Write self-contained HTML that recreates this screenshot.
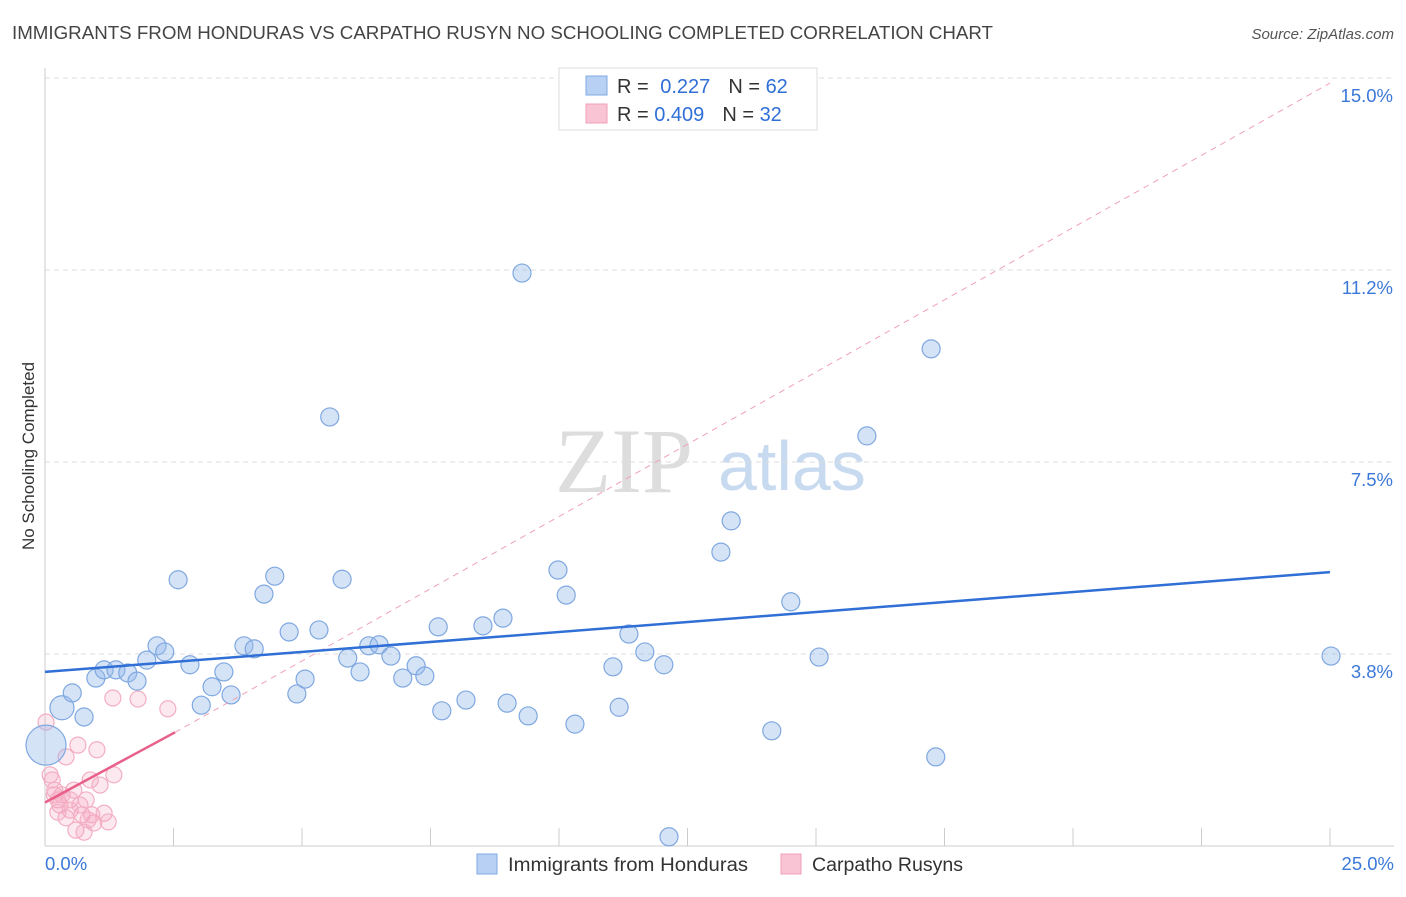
<!DOCTYPE html>
<html><head><meta charset="utf-8"><style>
body{margin:0;background:#fff;font-family:"Liberation Sans",sans-serif}
svg text{font-family:"Liberation Sans",sans-serif}
</style></head><body>
<svg id="c" width="1406" height="892" xmlns="http://www.w3.org/2000/svg">
<text x="12" y="39" font-size="18" fill="#444" textLength="981" lengthAdjust="spacingAndGlyphs">IMMIGRANTS FROM HONDURAS VS CARPATHO RUSYN NO SCHOOLING COMPLETED CORRELATION CHART</text>
<text x="1394" y="39" font-size="15" fill="#555" text-anchor="end" font-style="italic">Source: ZipAtlas.com</text>
<text transform="translate(34,456) rotate(-90)" font-size="17" fill="#333" text-anchor="middle">No Schooling Completed</text>
<text x="555" y="492" font-size="92" fill="#ddd" style="font-family:'Liberation Serif',serif">ZIP</text>
<text x="718" y="490" font-size="70" fill="#c8daf0">atlas</text>
<g id="grid"></g><g id="axes"></g><g id="marks"></g>
<g>
<rect x="559" y="68" width="258" height="62" fill="#fff" stroke="#ddd"/>
<rect x="586" y="76" width="21" height="19" fill="#b8d0f4" stroke="#7fa8e0"/>
<rect x="586" y="104" width="21" height="19" fill="#f9c4d4" stroke="#f0a0b8"/>
<text x="617" y="93" font-size="20" fill="#333">R = <tspan fill="#2f6fd6" dx="6">0.227</tspan><tspan fill="#333" dx="18">N = </tspan><tspan fill="#2f6fd6">62</tspan></text>
<text x="617" y="121" font-size="20" fill="#333">R = <tspan fill="#2f6fd6">0.409</tspan><tspan fill="#333" dx="18">N = </tspan><tspan fill="#2f6fd6">32</tspan></text>
</g>
<g>
<rect x="477" y="854" width="20" height="20" fill="#b8d0f4" stroke="#7fa8e0"/>
<text x="508" y="871" font-size="19" fill="#333" textLength="240" lengthAdjust="spacingAndGlyphs">Immigrants from Honduras</text>
<rect x="781" y="854" width="20" height="20" fill="#f9c4d4" stroke="#f0a0b8"/>
<text x="812" y="871" font-size="19" fill="#333" textLength="151" lengthAdjust="spacingAndGlyphs">Carpatho Rusyns</text>
</g>
</svg>
<script>
const blueX=[0.02,0.33,0.53,0.76,0.99,1.15,1.38,1.61,1.79,1.98,2.18,2.33,2.59,2.82,3.04,3.25,3.48,3.62,3.87,4.07,4.26,4.47,4.75,4.90,5.06,5.33,5.54,5.78,5.89,6.13,6.30,6.50,6.73,6.96,7.22,7.39,7.65,7.72,8.19,8.52,8.91,8.99,9.28,9.40,9.98,10.14,10.31,11.05,11.17,11.36,11.67,12.04,12.14,13.15,13.35,14.14,14.51,15.06,15.99,17.24,17.33,25.02];
const blueY=[1.97,2.70,2.99,2.52,3.28,3.44,3.44,3.38,3.22,3.63,3.91,3.79,5.20,3.54,2.75,3.11,3.40,2.95,3.91,3.85,4.92,5.27,4.18,2.97,3.26,4.22,8.38,5.21,3.67,3.40,3.91,3.93,3.71,3.28,3.52,3.32,4.28,2.64,2.85,4.30,4.45,2.79,11.19,2.54,5.39,4.90,2.38,3.50,2.71,4.14,3.79,3.54,0.18,5.74,6.35,2.25,4.77,3.69,8.01,9.71,1.74,3.71];
const blueR=[20,12,9,9,9,9,9,9,9,9,9,9,9,9,9,9,9,9,9,9,9,9,9,9,9,9,9,9,9,9,9,9,9,9,9,9,9,9,9,9,9,9,9,9,9,9,9,9,9,9,9,9,9,9,9,9,9,9,9,9,9,9];
const pinkX=[0.02,0.10,0.19,0.25,0.33,0.41,0.49,0.56,0.64,0.72,0.80,0.88,0.95,1.01,1.07,1.15,1.23,1.34,1.32,1.81,2.39,0.29,0.41,0.60,0.76,0.91,0.14,0.25,0.49,0.18,0.68,0.84];
const pinkY=[2.42,1.39,1.09,0.90,1.00,1.74,0.90,1.09,1.97,0.61,0.90,1.29,0.45,1.88,1.19,0.64,0.47,1.39,2.89,2.87,2.68,0.80,0.55,0.31,0.27,0.61,1.29,0.66,0.70,1.00,0.80,0.51];
const yTicks=[3.8,7.5,11.2,15.0];
const yTickVals=[3.75,7.5,11.25,15];
const blueTrend=[[0,3.4],[25,5.35]];
const pinkTrend=[[0,0.85],[2.53,2.22]];
const pinkDash=[[2.53,2.22],[25,14.9]];
const X=v=>45+v*51.4, Y=v=>846-v*51.2;
const NS="http://www.w3.org/2000/svg";
function mk(t,a,p){const e=document.createElementNS(NS,t);for(const k in a)e.setAttribute(k,a[k]);p.appendChild(e);return e;}
const grid=document.getElementById('grid'),axes=document.getElementById('axes'),marks=document.getElementById('marks');
yTickVals.forEach((v,i)=>{
 const l=mk('line',{x1:45,x2:1394,y1:Y(v),y2:Y(v),stroke:'#ddd','stroke-dasharray':'5,4'},grid);
 
 
 const t=mk('text',{x:1393,y:Y(v)+24,'font-size':18.5,fill:'#3b78d8','text-anchor':'end'},axes);
 t.textContent=yTicks[i].toFixed(1)+'%';
 
 
});
const ax=mk('line',{x1:45,x2:1394,y1:846,y2:846,stroke:'#ccc'},axes);


const ay=mk('line',{x1:45,x2:45,y1:68,y2:846,stroke:'#ccc'},axes);


for(let i=0;i<=10;i++){const tk=mk('line',{x1:X(i*2.5),x2:X(i*2.5),y1:828,y2:846,stroke:'#ccc'},axes);
 
 }
[['0.0%',45,'start'],['25.0%',1394,'end']].forEach(d=>{const t=mk('text',{x:d[1],y:870,'font-size':18.5,fill:'#3b78d8','text-anchor':d[2]},axes);t.textContent=d[0];
 
 });
pinkX.forEach((x,i)=>{const c=mk('circle',{cx:X(x),cy:Y(pinkY[i]),r:8,fill:'rgba(245,165,192,0.25)',stroke:'#f3aec3','stroke-width':1.2},marks);
 
 });
blueX.forEach((x,i)=>{const c=mk('circle',{cx:X(x),cy:Y(blueY[i]),r:blueR[i],fill:'rgba(150,185,235,0.4)',stroke:'#7fa8e0','stroke-width':1.2},marks);
 
 });
const pd=mk('line',{x1:X(pinkDash[0][0]),y1:Y(pinkDash[0][1]),x2:X(pinkDash[1][0]),y2:Y(pinkDash[1][1]),stroke:'#f0a0b8','stroke-dasharray':'6,5','stroke-width':1},marks);


const pt=mk('line',{x1:X(pinkTrend[0][0]),y1:Y(pinkTrend[0][1]),x2:X(pinkTrend[1][0]),y2:Y(pinkTrend[1][1]),stroke:'#e8608a','stroke-width':2.5},marks);


const bt=mk('line',{x1:X(blueTrend[0][0]),y1:Y(blueTrend[0][1]),x2:X(blueTrend[1][0]),y2:Y(blueTrend[1][1]),stroke:'#2f6fd6','stroke-width':2.5},marks);


</script>
</body></html>
